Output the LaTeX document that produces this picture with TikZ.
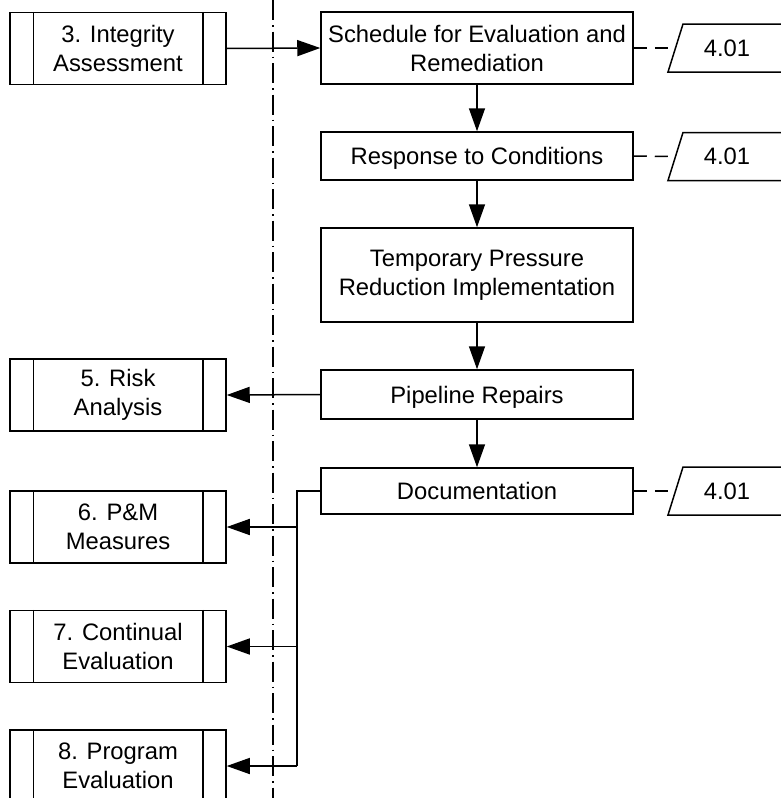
\documentclass[tikz,border=0pt]{standalone}
\usepackage{fontspec}
\setmainfont{Liberation Sans}
\usetikzlibrary{arrows.meta}
\begin{document}
\begin{tikzpicture}[x=1pt,y=-1pt,
  line width=1.5pt,
  every node/.style={font=\fontsize{23.8}{29}\selectfont, align=center, inner sep=0pt},
  procbox/.style={draw, minimum width=312pt},
  oneline/.style={text depth=0pt},
  subproc/.style={draw, minimum width=216pt, minimum height=72pt,
    append after command={
      ([xshift=24pt]\tikzlastnode.north west) edge[draw] ([xshift=24pt]\tikzlastnode.south west)
      ([xshift=-24pt]\tikzlastnode.north east) edge[draw] ([xshift=-24pt]\tikzlastnode.south east)}},
  flow/.style={-{Triangle[length=23pt,width=16pt]}},
  reflink/.style={dash pattern=on 13pt off 8pt},
  lane/.style={line width=1.1pt, dash pattern=on 20pt off 5pt on 1.5pt off 5pt}]
\useasboundingbox (0,0) rectangle (781,798);

% swimlane separator
\draw[lane] (273,0) -- (273,798);

% main process column
\node[procbox, minimum height=72pt] (sched) at (477,48) {Schedule for Evaluation and\\Remediation};
\node[procbox, oneline, minimum height=48pt] (resp) at (477,156) {Response to Conditions};
\node[procbox, minimum height=94pt] (temp) at (477,275) {Temporary Pressure\\Reduction Implementation};
\node[procbox, oneline, minimum height=49pt] (repair) at (477,394.5) {Pipeline Repairs};
\node[procbox, oneline, minimum height=46pt] (doc) at (477,491) {Documentation};

% related program elements
\node[subproc] (integ) at (118,48.5) {3. Integrity\\Assessment};
\node[subproc] (risk) at (118,395) {5. Risk\\Analysis};
\node[subproc] (pm) at (118,527) {6. P\&M\\Measures};
\node[subproc] (cont) at (118,646.5) {7. Continual\\Evaluation};
\node[subproc] (prog) at (118,766) {8. Program\\Evaluation};

% reference tags
\foreach \n/\y in {r1/48, r2/156.5, r3/491}{
  \draw (668,\y+24) -- (683,\y-24) -- (797,\y-24) -- (782,\y+24) -- cycle;
  \node[oneline] (\n) at (727,\y) {4.01};
  \coordinate (\n in) at (675.5,\y);
}
\draw[reflink] (sched.east) -- (r1in);
\draw[reflink] (resp.east) -- (r2in);
\draw[reflink] (doc.east) -- (r3in);

% flow
\draw[flow] (integ.east) -- (sched.west);
\draw[flow] (sched) -- (resp);
\draw[flow] (resp) -- (temp);
\draw[flow] (temp) -- (repair);
\draw[flow] (repair) -- (doc);
\draw[flow] (repair.west) -- (risk.east);

\coordinate (trunk) at (297,491);
\draw (doc.west) -- (trunk) -- (trunk |- prog.east);
\draw[flow] (trunk |- pm.east) -- (pm.east);
\draw[flow] (trunk |- cont.east) -- (cont.east);
\draw[flow] (trunk |- prog.east) -- (prog.east);
\end{tikzpicture}
\end{document}
